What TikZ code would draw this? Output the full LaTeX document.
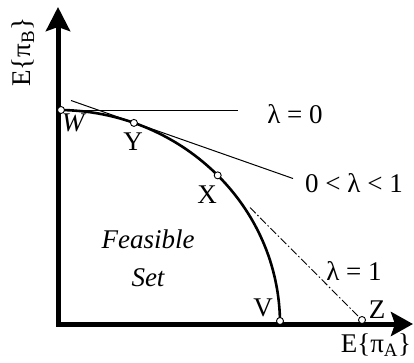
\documentclass[tikz,border=0pt]{standalone}
\usepackage{fontspec}
\setmainfont{Liberation Serif}
\usetikzlibrary{arrows.meta, positioning}

\begin{document}
\begin{tikzpicture}[
x=1pt, y=1pt,
every node/.style={font=\fontsize{27}{38}\selectfont},
axis/.style={line width=5pt, {Stealth[length=24pt, width=24pt, inset=4pt]}-{Stealth[length=22pt, width=24pt, inset=4pt]}},
frontier/.style={line width=2.6pt},
tangent/.style={line width=1pt},
tangentdd/.style={line width=0.9pt, dash pattern=on 8pt off 2.5pt on 1.5pt off 2.5pt},
pt/.style={circle, draw, fill=white, line width=0.9pt, inner sep=0pt, minimum size=7pt}
]
\useasboundingbox (0,0) rectangle (414,362);

% EJES
\coordinate (o) at (58,38);
\coordinate (ytip) at (58,355);
\coordinate (xtip) at (413,38);
\draw[axis] (ytip) -- (o) -- (xtip);

% FRONTERA
\coordinate (w) at (58,252);
\draw[frontier] (w) arc[start angle=90, end angle=0, x radius=222pt, y radius=214pt];

% TANGENTES
\coordinate (l0) at (238,252);
\coordinate (lma) at (71,261.5);
\coordinate (lmb) at (293,183.5);
\coordinate (l1) at (250,154.4);
\coordinate (z) at (362,42);
\draw[tangent] (w) -- (l0);
\draw[tangent] (lma) -- (lmb);
\draw[tangentdd] (l1) -- (z);

% PUNTOS
\node[pt] (ptW) at (61,252) {};
\path (o) ++(70:222pt and 214pt) node[pt] (ptY) {};
\path (o) ++(44:222pt and 214pt) node[pt] (ptX) {};
\node[pt] (ptV) at (280,41) {};
\node[pt] (ptZ) at (z) {};

% ETIQUETAS
\node (labW) at (73,239) {\itshape W};
\node (labY) at (133,220) {Y};
\node (labX) at (207,167) {X};
\node (labV) at (263,54) {V};
\node (labZ) at (377,52) {Z};
\node (lam0) at (295,248) {λ = 0};
\node (lamm) at (354,179) {0 < λ < 1};
\node (lam1) at (354,91) {λ = 1};
\node (feas) at (148,104) [align=center, font=\fontsize{27}{38}\selectfont\itshape] {Feasible\\Set};
\node (ea) at (376,17) {E\{π\textsubscript{A}\}};
\node (eb) at (23,310) [rotate=90] {E\{π\textsubscript{B}\}};

\end{tikzpicture}
\end{document}
